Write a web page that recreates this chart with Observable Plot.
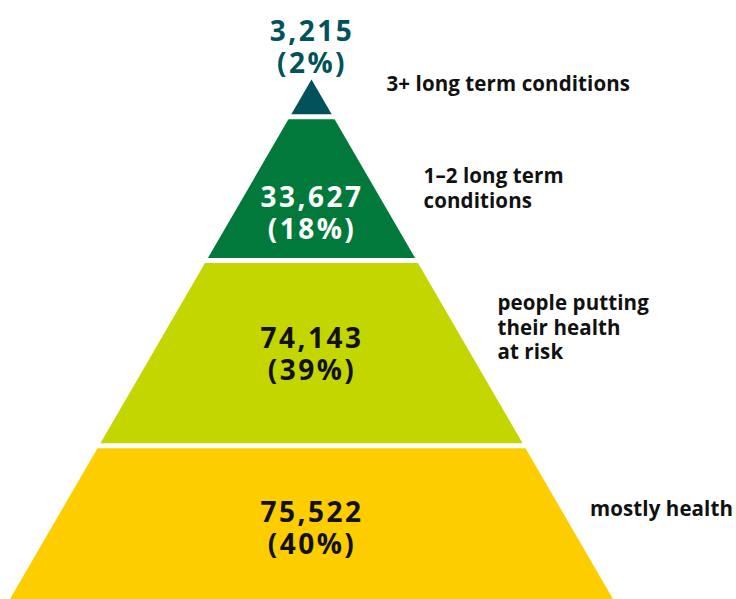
<!DOCTYPE html>
<html>
<head>
<meta charset="utf-8">
<script src="https://cdn.jsdelivr.net/npm/d3@7"></script>
<script src="https://cdn.jsdelivr.net/npm/@observablehq/plot@0.6"></script>
<style>
  html, body { margin: 0; padding: 0; background: #ffffff; }
  #chart svg { display: block; overflow: visible; }
</style>
</head>
<body>
<div id="chart"></div>
<script>
// ---- data ----
const categories = ["3+ long term conditions", "1–2 long term\nconditions", "people putting\ntheir health\nat risk", "mostly health"];
const values = [3215, 33627, 74143, 75522];
const percents = [2, 18, 39, 40];

// ---- styles ----
const fillColors = ["#01525a", "#00793a", "#c4d600", "#fecd00"];
const valueTextColors = ["#01525a", "#ffffff", "#111111", "#111111"];

// ---- layout (pyramid depth units: 0 = apex, 1 = base; half-width = depth) ----
const bandEdges = [0, 0.0708, 0.3475, 0.704, 1];
const valueLabelY = [-0.0635, 0.2551, 0.5268, 0.8612];
const nameLabelX = [0.247, 0.370, 0.615, 0.922];
const nameLabelY = [0.0056, 0.2077, 0.4753, 0.8237];

const bandPoints = categories.flatMap((c, i) => [
  {cat: c, y: bandEdges[i], x1: -bandEdges[i], x2: bandEdges[i]},
  {cat: c, y: bandEdges[i + 1], x1: -bandEdges[i + 1], x2: bandEdges[i + 1]}
]);
const rows = categories.map((c, i) => ({
  cat: c,
  label: `${d3.format(",")(values[i])}\n(${percents[i]}%)`,
  vy: valueLabelY[i],
  nx: nameLabelX[i],
  ny: nameLabelY[i],
  tc: valueTextColors[i]
}));

const font = "'Open Sans', 'Noto Sans', sans-serif";

const chart = Plot.plot({
  width: 736,
  height: 599,
  margin: 0,
  style: {background: "#ffffff", fontFamily: font, overflow: "visible"},
  x: {domain: [-1, 1], range: [10, 613], axis: null},
  y: {domain: [0, 1], range: [79.5, 599], axis: null},
  color: {domain: categories, range: fillColors},
  marks: [
    Plot.areaX(bandPoints, {y: "y", x1: "x1", x2: "x2", z: "cat", fill: "cat", curve: "linear"}),
    Plot.ruleY(bandEdges.slice(1, -1), {stroke: "#ffffff", strokeWidth: 5}),
    Plot.text(rows, {
      x: () => 0, y: "vy", text: "label", fill: "tc",
      fontSize: 28, fontWeight: 700, lineHeight: 1.14,
      textAnchor: "middle"
    }),
    Plot.text(rows, {
      x: "nx", y: "ny", text: "cat", fill: "#111111",
      fontSize: 20.5, fontWeight: 700, lineHeight: 1.2,
      textAnchor: "start"
    })
  ]
});
// letter spacing for the value labels and name labels
chart.querySelectorAll("g[aria-label='text']").forEach((g, i) => {
  g.setAttribute("letter-spacing", i === 0 ? "2.5" : "0.1");
});
document.getElementById("chart").appendChild(chart);
</script>
</body>
</html>
